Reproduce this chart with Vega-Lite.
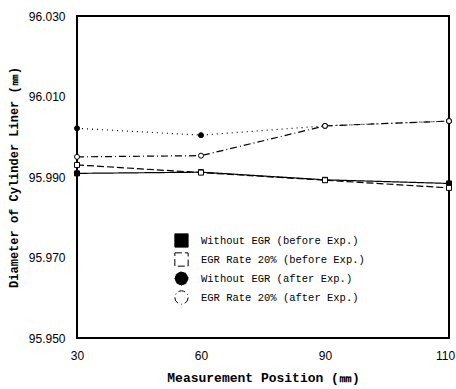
{
  "$schema": "https://vega.github.io/schema/vega-lite/v6.json",
  "width": 372,
  "height": 322,
  "autosize": {"type": "none"},
  "padding": {"left": 77, "top": 16, "right": 7, "bottom": 51},
  "background": "white",
  "config": {
    "view": {"stroke": "black", "strokeWidth": 2},
    "axis": {
      "domain": false,
      "ticks": false,
      "grid": false,
      "labelColor": "black",
      "labelFont": "Liberation Sans",
      "labelFontSize": 12,
      "titleColor": "black",
      "titleFont": "Liberation Mono",
      "titleFontWeight": "bold"
    },
    "legend": {
      "orient": "none",
      "legendX": 97,
      "legendY": 217,
      "padding": 0,
      "symbolSize": 177,
      "symbolStrokeWidth": 1,
      "symbolStrokeColor": "black",
      "rowPadding": 0,
      "labelOffset": 12,
      "labelLimit": 400,
      "labelFont": "Liberation Mono",
      "labelFontSize": 10.5,
      "labelColor": "black"
    }
  },
  "data": {
    "values": [
      {"series": "Without EGR (before Exp.)", "pos": 30, "d": 95.9909},
      {"series": "Without EGR (before Exp.)", "pos": 60, "d": 95.9912},
      {"series": "Without EGR (before Exp.)", "pos": 90, "d": 95.9893},
      {"series": "Without EGR (before Exp.)", "pos": 110, "d": 95.9884},
      {"series": "EGR Rate 20% (before Exp.)", "pos": 30, "d": 95.9930},
      {"series": "EGR Rate 20% (before Exp.)", "pos": 60, "d": 95.9911},
      {"series": "EGR Rate 20% (before Exp.)", "pos": 90, "d": 95.9892},
      {"series": "EGR Rate 20% (before Exp.)", "pos": 110, "d": 95.9873},
      {"series": "Without EGR (after Exp.)", "pos": 30, "d": 96.0021},
      {"series": "Without EGR (after Exp.)", "pos": 60, "d": 96.0004},
      {"series": "Without EGR (after Exp.)", "pos": 90, "d": 96.0027},
      {"series": "Without EGR (after Exp.)", "pos": 110, "d": 96.0039},
      {"series": "EGR Rate 20% (after Exp.)", "pos": 30, "d": 95.9950},
      {"series": "EGR Rate 20% (after Exp.)", "pos": 60, "d": 95.9953},
      {"series": "EGR Rate 20% (after Exp.)", "pos": 90, "d": 96.0027},
      {"series": "EGR Rate 20% (after Exp.)", "pos": 110, "d": 96.0039}
    ]
  },
  "encoding": {
    "x": {
      "field": "pos",
      "type": "ordinal",
      "sort": [30, 60, 90, 110],
      "scale": {"type": "point", "padding": 0},
      "axis": {
        "title": "Measurement Position (㎜)",
        "labelAngle": 0,
        "labelPadding": 12,
        "labelOffset": {"expr": "datum.label == '110' ? -4 : 0"},
        "titleFontSize": 13,
        "titlePadding": 10
      }
    },
    "y": {
      "field": "d",
      "type": "quantitative",
      "scale": {"domain": [95.95, 96.03], "nice": false, "zero": false},
      "axis": {
        "title": "Diameter of Cylinder Liner (㎜)",
        "values": [95.95, 95.97, 95.99, 96.01, 96.03],
        "format": ".3f",
        "labelPadding": 12,
        "titleFontSize": 12,
        "titlePadding": 8
      }
    }
  },
  "layer": [
    {
      "mark": {"type": "line", "color": "black", "strokeWidth": 1.2},
      "encoding": {
        "strokeDash": {
          "field": "series",
          "type": "nominal",
          "title": null,
          "scale": {
            "domain": ["Without EGR (before Exp.)", "EGR Rate 20% (before Exp.)", "Without EGR (after Exp.)", "EGR Rate 20% (after Exp.)"],
            "range": [[1, 0], [7, 3], [1, 4], [7, 3, 1, 3]]
          },
          "legend": {
            "encode": {
              "symbols": {
                "update": {
                  "stroke": {"value": "black"},
                  "strokeWidth": {"value": 1}
                }
              }
            }
          }
        }
      }
    },
    {
      "mark": {"type": "point", "color": "black", "size": 25, "strokeWidth": 1, "opacity": 1},
      "encoding": {
        "shape": {
          "field": "series",
          "type": "nominal",
          "title": null,
          "scale": {
            "domain": ["Without EGR (before Exp.)", "EGR Rate 20% (before Exp.)", "Without EGR (after Exp.)", "EGR Rate 20% (after Exp.)"],
            "range": ["square", "square", "circle", "circle"]
          },
          "legend": {
            "encode": {
              "symbols": {
                "update": {
                  "stroke": {"value": "black"},
                  "strokeWidth": {"value": 1}
                }
              }
            }
          }
        },
        "fill": {
          "field": "series",
          "type": "nominal",
          "title": null,
          "scale": {
            "domain": ["Without EGR (before Exp.)", "EGR Rate 20% (before Exp.)", "Without EGR (after Exp.)", "EGR Rate 20% (after Exp.)"],
            "range": ["black", "white", "black", "white"]
          },
          "legend": {
            "encode": {
              "symbols": {
                "update": {
                  "stroke": {"value": "black"},
                  "strokeWidth": {"value": 1}
                }
              }
            }
          }
        }
      }
    }
  ]
}
